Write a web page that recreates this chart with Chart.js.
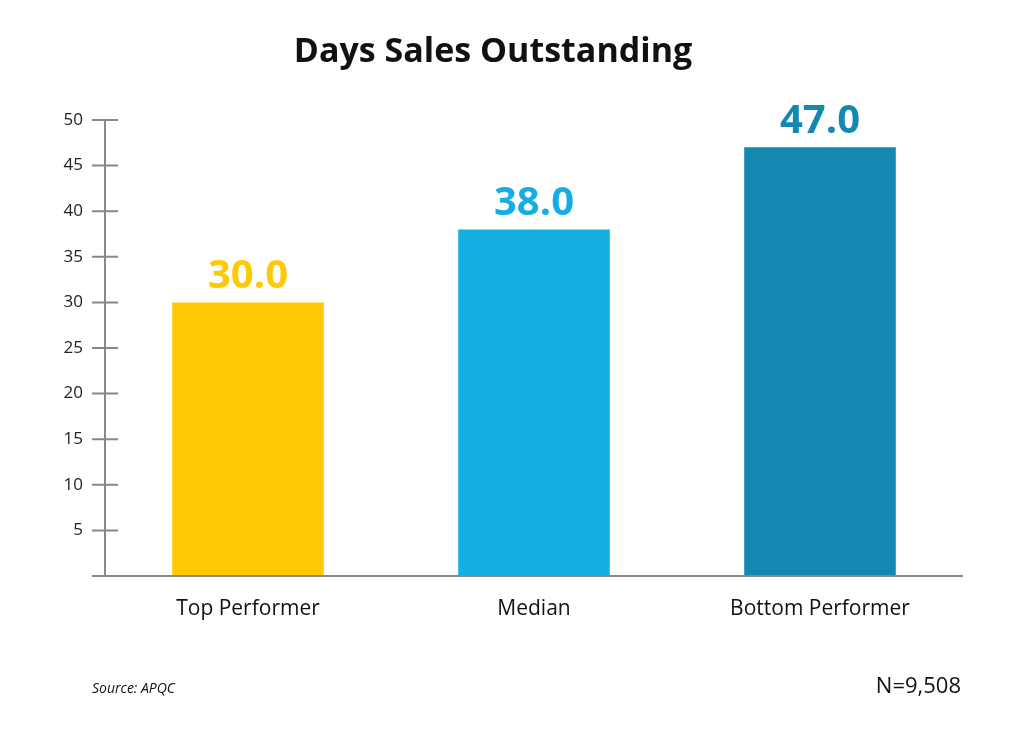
<!DOCTYPE html>
<html>
<head>
<meta charset="utf-8">
<script src="https://cdn.jsdelivr.net/npm/chart.js@4"></script>
<style>
  html, body { margin: 0; padding: 0; background: #fff; }
  #wrap { position: relative; width: 1024px; height: 735px; }
</style>
</head>
<body>
<div id="wrap"><canvas id="myChart"></canvas></div>
<script>
"use strict";

var categories = ['Top Performer', 'Median', 'Bottom Performer'];
var values     = [30.0, 38.0, 47.0];
var barColors  = ['#FFC905', '#15AEE3', '#1588B2'];
var yTicks     = [0, 5, 10, 15, 20, 25, 30, 35, 40, 45, 50];

var FONT = "'Open Sans', Roboto, sans-serif";

// title, axis lines, tick marks, value labels, footer texts
var decor = {
    id: 'decor',
    afterDraw: function (chart) {
        var ctx = chart.ctx;
        var area = chart.chartArea;
        var y = chart.scales.y;
        ctx.save();

        ctx.fillStyle = '#111';
        ctx.font = "bold 34px " + FONT;
        ctx.textAlign = 'center';
        ctx.textBaseline = 'middle';
        ctx.fillText('Days Sales Outstanding', 493, 52);

        ctx.strokeStyle = '#888';
        ctx.lineWidth = 2;
        ctx.beginPath();
        ctx.moveTo(area.left, y.getPixelForValue(50));
        ctx.lineTo(area.left, area.bottom);
        ctx.moveTo(92, area.bottom);
        ctx.lineTo(area.right, area.bottom);
        yTicks.forEach(function (t) {
            if (t === 0) return;
            var py = y.getPixelForValue(t);
            ctx.moveTo(92, py);
            ctx.lineTo(118, py);
        });
        ctx.stroke();

        var meta = chart.getDatasetMeta(0);
        ctx.font = "bold 40px " + FONT;
        ctx.textBaseline = 'bottom';
        meta.data.forEach(function (bar, i) {
            ctx.fillStyle = barColors[i];
            ctx.fillText(values[i].toFixed(1), bar.x, bar.y - 6);
        });

        ctx.fillStyle = '#111';
        ctx.textAlign = 'left';
        ctx.textBaseline = 'middle';
        ctx.font = "italic 14px " + FONT;
        ctx.fillText('Source: APQC', 92, 689);
        ctx.textAlign = 'right';
        ctx.font = "22px " + FONT;
        ctx.fillText('N=9,508', 961, 687);
        ctx.restore();
    }
};

new Chart(document.getElementById('myChart'), {
    type: 'bar',
    data: {
        labels: categories,
        datasets: [{
            data: values,
            backgroundColor: barColors,
            categoryPercentage: 1,
            barPercentage: 0.53
        }]
    },
    options: {
        responsive: true,
        maintainAspectRatio: false,
        animation: false,
        layout: { padding: { top: 120, right: 61, left: 0, bottom: 0 } },
        plugins: { legend: { display: false }, tooltip: { enabled: false } },
        scales: {
            x: {
                grid: { display: false, drawTicks: false },
                border: { display: false },
                ticks: { color: '#111', padding: 20, font: { size: 21, family: FONT } },
                afterFit: function (s) { s.height = 159; }
            },
            y: {
                min: 0,
                max: 50,
                grid: { display: false, drawTicks: false },
                border: { display: false },
                ticks: {
                    stepSize: 5,
                    padding: 22,
                    color: '#222',
                    font: { size: 17, family: FONT },
                    callback: function (v) { return v === 0 ? '' : v; }
                },
                afterFit: function (s) { s.width = 105; }
            }
        }
    },
    plugins: [decor]
});
</script>
</body>
</html>
